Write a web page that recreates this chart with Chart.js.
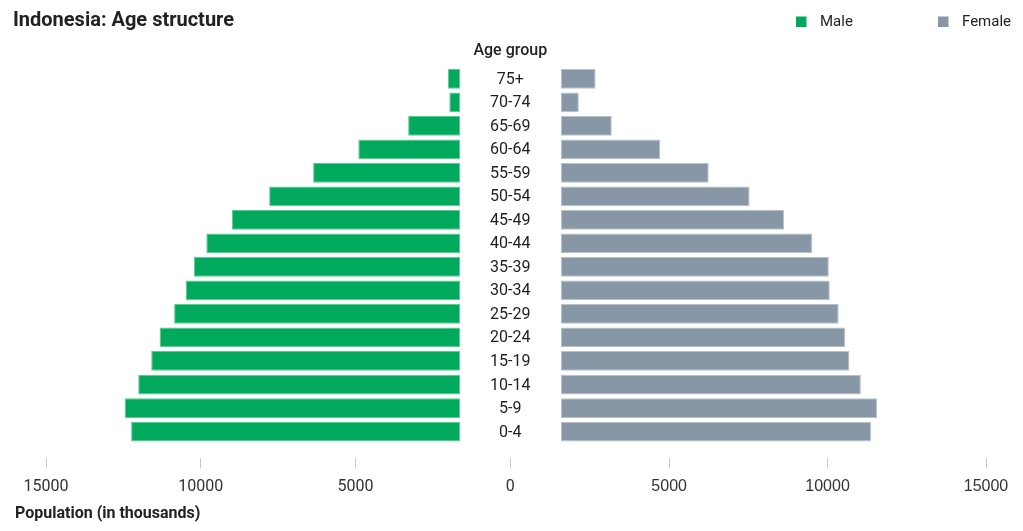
<!DOCTYPE html>
<html>
<head>
<meta charset="utf-8">
<script src="https://cdn.jsdelivr.net/npm/chart.js@4.4.1/dist/chart.umd.min.js"></script>
<style>
html, body { margin: 0; padding: 0; background: #ffffff; }
#wrap { position: relative; width: 1023px; height: 531px; overflow: hidden; }
#wrap canvas { position: absolute; left: 0; top: 0; }
</style>
</head>
<body>
<div id="wrap">
  <canvas id="maleChart" width="1023" height="531"></canvas>
  <canvas id="femaleChart" width="1023" height="531"></canvas>
</div>
<script>
// ---- data ----
const ageGroups = ['75+', '70-74', '65-69', '60-64', '55-59', '50-54', '45-49', '40-44',
                   '35-39', '30-34', '25-29', '20-24', '15-19', '10-14', '5-9', '0-4'];
const maleValues = [2020, 1970, 3300, 4910, 6370, 7790, 8990, 9820,
                    10220, 10490, 10860, 11330, 11600, 12020, 12460, 12250];
const femaleValues = [2680, 2150, 3190, 4720, 6250, 7540, 8630, 9520,
                      10040, 10070, 10350, 10560, 10690, 11050, 11560, 11370];
const axisTicks = [0, 5000, 10000, 15000];
const seriesNames = ['Male', 'Female'];
const chartTitle = 'Indonesia: Age structure';
const axisTitle = 'Population (in thousands)';
const centerTitle = 'Age group';

// ---- styles ----
const MALE_COLOR = '#00a95c';
const MALE_EDGE = '#5cca93';
const FEMALE_COLOR = '#8797a6';
const FEMALE_EDGE = '#b8c2cc';
const CENTER_GAP = 1620;       // half-width of the central label band, in axis units
const AXIS_MAX = 15000;

function tickScale(reverse, fontFamily, showZero) {
  return {
    type: 'linear',
    reverse: reverse,
    min: 0,
    max: AXIS_MAX,
    afterBuildTicks: s => { s.ticks = axisTicks.map(v => ({ value: v })); },
    grid: {
      display: true,
      drawOnChartArea: false,
      drawTicks: true,
      tickLength: 25,
      borderDash: [0, 15, 10],
      tickBorderDash: [0, 15, 10],
      tickColor: '#c8c8c8',
      tickWidth: 1
    },
    border: { display: false },
    ticks: {
      font: { family: fontFamily, size: 16 },
      color: '#333333',
      padding: 9,
      maxRotation: 0,
      autoSkip: false,
      callback: v => (v === 0 && !showZero) ? '' : String(v)
    }
  };
}

const decorPlugin = {
  id: 'decor',
  afterDraw(chart) {
    const ctx = chart.ctx;
    const xs = chart.scales.x, ys = chart.scales.y;
    const cx = xs.getPixelForValue(0);
    ctx.save();
    // title
    ctx.fillStyle = '#222222';
    ctx.textAlign = 'left';
    ctx.textBaseline = 'alphabetic';
    ctx.font = 'bold 20px Roboto';
    ctx.fillText(chartTitle, 13, 26);
    // legend
    const legendItems = [
      { name: seriesNames[0], fill: MALE_COLOR, bx: 796, tx: 820 },
      { name: seriesNames[1], fill: FEMALE_COLOR, bx: 938, tx: 962 }
    ];
    ctx.font = '15px Roboto';
    legendItems.forEach(it => {
      ctx.fillStyle = it.fill;
      ctx.fillRect(it.bx, 16.5, 10.5, 10.5);
      ctx.fillStyle = '#222222';
      ctx.fillText(it.name, it.tx, 26);
    });
    // center header
    ctx.textAlign = 'center';
    ctx.font = '500 16px Roboto';
    ctx.fillStyle = '#222222';
    ctx.fillText(centerTitle, cx, 55);
    // age group labels
    ctx.font = '16px Roboto';
    ctx.textBaseline = 'middle';
    ctx.fillStyle = '#222222';
    ageGroups.forEach((g, i) => {
      ctx.fillText(g, cx, ys.getPixelForValue(i) + 1);
    });
    // axis title
    ctx.textAlign = 'left';
    ctx.textBaseline = 'alphabetic';
    ctx.font = 'bold 16px Roboto';
    ctx.fillStyle = '#222222';
    ctx.fillText(axisTitle, 15, 518);
    ctx.restore();
  }
};

const commonBar = {
  borderWidth: 1,
  borderSkipped: false,
  barPercentage: 1,
  categoryPercentage: 0.84
};

const PAD_TOP = 67;
const PAD_BOTTOM = 25.5;

new Chart(document.getElementById('maleChart'), {
  type: 'bar',
  data: {
    labels: ageGroups,
    datasets: [Object.assign({
      label: seriesNames[0],
      data: maleValues,
      base: CENTER_GAP,
      backgroundColor: MALE_COLOR,
      borderColor: MALE_EDGE
    }, commonBar)]
  },
  options: {
    indexAxis: 'y',
    responsive: false,
    animation: false,
    layout: { padding: { left: 46, right: 512.7, top: PAD_TOP, bottom: PAD_BOTTOM } },
    plugins: { legend: { display: false }, tooltip: { enabled: false }, title: { display: false } },
    scales: {
      x: tickScale(true, 'Roboto', true),
      y: { display: false }
    }
  },
  plugins: [decorPlugin]
});

new Chart(document.getElementById('femaleChart'), {
  type: 'bar',
  data: {
    labels: ageGroups,
    datasets: [Object.assign({
      label: seriesNames[1],
      data: femaleValues,
      base: CENTER_GAP * 0.975,
      backgroundColor: FEMALE_COLOR,
      borderColor: FEMALE_EDGE
    }, commonBar)]
  },
  options: {
    indexAxis: 'y',
    responsive: false,
    animation: false,
    layout: { padding: { left: 510.7, right: 37, top: PAD_TOP, bottom: PAD_BOTTOM } },
    plugins: { legend: { display: false }, tooltip: { enabled: false }, title: { display: false } },
    scales: {
      x: tickScale(false, "'Liberation Sans', Arial, sans-serif", false),
      y: { display: false }
    }
  }
});
</script>
</body>
</html>
